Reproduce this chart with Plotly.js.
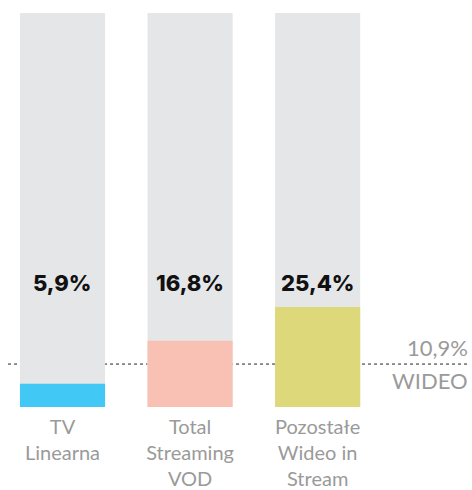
<!DOCTYPE html>
<html>
<head>
<meta charset="utf-8">
<script src="https://cdn.plot.ly/plotly-3.0.1.min.js"></script>
<style>html,body{margin:0;padding:0;background:#fff;}</style>
</head>
<body>
<div id="chart" style="width:472px;height:490px;"></div>
<script>
var categories = ["TV<br>Linearna", "Total<br>Streaming<br>VOD", "Pozostałe<br>Wideo in<br>Stream"];
var values = [5.9, 16.8, 25.4];
var valueLabels = ["5,9%", "16,8%", "25,4%"];
var fullValues = [100, 100, 100];
var barColors = ["#42c8f4", "#f9c0b4", "#ddd879"];
var referenceValue = 10.9;
var referenceLabel = "10,9%";
var referenceName = "WIDEO";

var traces = [
  {type: "bar", x: categories, y: fullValues, marker: {color: "#e5e6e8"}, width: 0.667, hoverinfo: "skip"},
  {type: "bar", x: categories, y: values, marker: {color: barColors}, width: 0.667, hoverinfo: "skip"}
];

var annotations = valueLabels.map(function (t, i) {
  return {x: categories[i], xref: "x", y: 0.315, yref: "paper", text: t, showarrow: false,
    font: {family: "Inter, DejaVu Sans", size: 22, color: "#111", weight: 800}, xanchor: "center", yanchor: "middle"};
});
annotations.push({x: 1, xref: "paper", y: referenceValue, yref: "y", text: referenceLabel, showarrow: false,
  xanchor: "right", yanchor: "bottom", xshift: -2, yshift: 1, font: {family: "Lato", size: 22, color: "#9a9a9a"}});
annotations.push({x: 1, xref: "paper", y: referenceValue, yref: "y", text: referenceName, showarrow: false,
  xanchor: "right", yanchor: "top", xshift: -2, yshift: -1, font: {family: "Lato", size: 22, color: "#9a9a9a"}});

var layout = {
  width: 472, height: 490,
  margin: {l: 0, r: 0, t: 13, b: 83},
  barmode: "overlay",
  showlegend: false,
  paper_bgcolor: "#fff", plot_bgcolor: "#fff",
  xaxis: {range: [-0.49, 3.21], showgrid: false, zeroline: false, showline: false, ticks: "",
    ticklabelstandoff: 6,
    tickfont: {family: "Lato", size: 20, color: "#9a9a9a"}, fixedrange: true},
  yaxis: {range: [0, 100], showgrid: false, zeroline: false, showticklabels: false, showline: false, fixedrange: true},
  shapes: [{type: "line", xref: "paper", x0: 0.017, x1: 0.995, yref: "y", y0: referenceValue, y1: referenceValue,
    line: {color: "#222", width: 1, dash: "dot"}, layer: "below"}],
  annotations: annotations
};

Plotly.newPlot("chart", traces, layout, {displayModeBar: false, staticPlot: true});
</script>
</body>
</html>
